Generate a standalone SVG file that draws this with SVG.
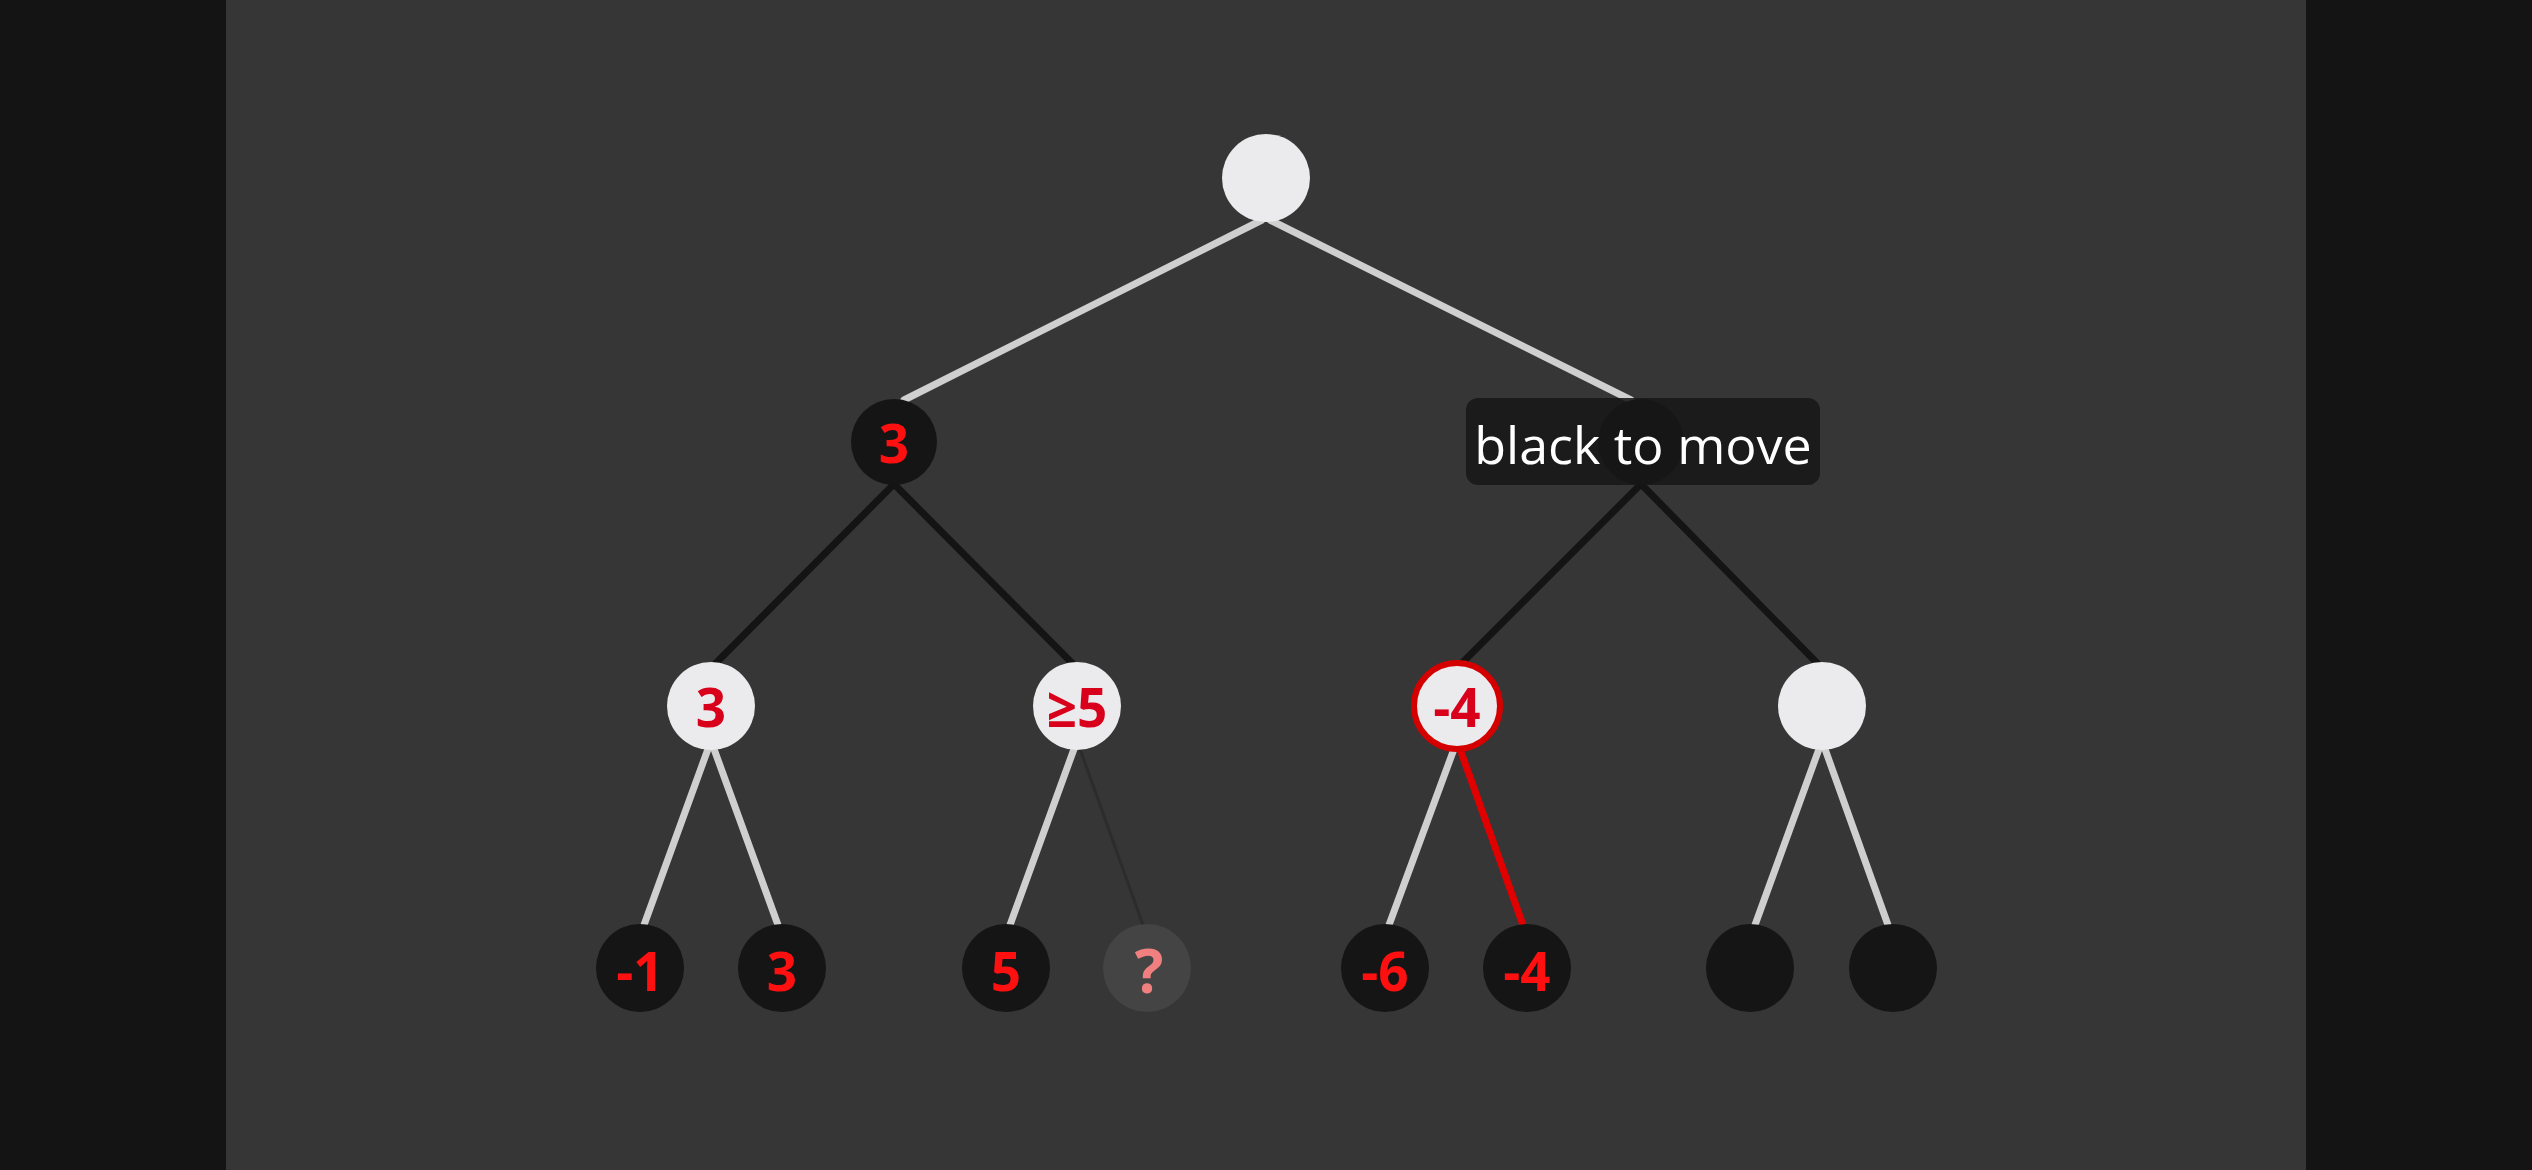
<svg xmlns="http://www.w3.org/2000/svg" width="2532" height="1170" viewBox="0 0 2532 1170">
<style>
.lt{stroke:#cfcfcf;stroke-width:7;stroke-linecap:round}
.dk{stroke:#141414;stroke-width:7;stroke-linecap:round}
.rd{stroke:#e00000;stroke-width:7;stroke-linecap:round}
.ft{stroke:#2c2c2c;stroke-width:3;stroke-linecap:round}
.w{fill:#ebebed}
.b{fill:#151515}
.v{font-family:"Open Sans","Noto Sans",sans-serif;font-weight:bold;font-size:53px;text-anchor:middle;dominant-baseline:central}
.vb{fill:#ff1010}
.vw{fill:#d8001a}
.q{fill:#f08080;font-size:60px}
</style>
<rect x="0" y="0" width="2532" height="1170" fill="#141414"/>
<rect x="226" y="0" width="2080" height="1170" fill="#363636"/>
<g id="connectors">
<line class="lt" x1="1262" y1="220" x2="904" y2="400"/>
<line class="lt" x1="1270" y1="220" x2="1631" y2="400"/>
<line class="dk" x1="894" y1="484" x2="716" y2="663"/>
<line class="dk" x1="894" y1="484" x2="1072" y2="663"/>
<line class="dk" x1="1641" y1="484" x2="1462" y2="663"/>
<line class="dk" x1="1641" y1="484" x2="1817" y2="663"/>
<line class="lt" x1="708" y1="749" x2="644" y2="925"/>
<line class="lt" x1="714" y1="749" x2="778" y2="925"/>
<line class="lt" x1="1074" y1="749" x2="1010" y2="925"/>
<line class="ft" x1="1080" y1="749" x2="1143" y2="925"/>
<line class="lt" x1="1454" y1="749" x2="1389" y2="925"/>
<line class="rd" x1="1460" y1="749" x2="1523" y2="925"/>
<line class="lt" x1="1819" y1="749" x2="1755" y2="925"/>
<line class="lt" x1="1825" y1="749" x2="1888" y2="925"/>
</g>
<g id="root"><circle class="w" cx="1266" cy="178" r="44"/></g>
<g id="n1a"><circle class="b" cx="894" cy="442" r="43"/><text class="v vb" x="894" y="442">3</text></g>
<g id="n1b"><circle fill="#0c0c0c" cx="1641" cy="442" r="43"/></g>
<g id="n2a"><circle class="w" cx="711" cy="706" r="44"/><text class="v vw" x="711" y="706">3</text></g>
<g id="n2b"><circle class="w" cx="1077" cy="706" r="44"/><text class="v vw" x="1077" y="706">≥5</text></g>
<g id="n2c"><circle class="w" cx="1457" cy="706" r="43" stroke="#d40000" stroke-width="6"/><text class="v vw" x="1457" y="706">-4</text></g>
<g id="n2d"><circle class="w" cx="1822" cy="706" r="44"/></g>
<g id="n3a"><circle class="b" cx="640" cy="968" r="44"/><text class="v vb" x="640" y="970">-1</text></g>
<g id="n3b"><circle class="b" cx="782" cy="968" r="44"/><text class="v vb" x="782" y="970">3</text></g>
<g id="n3c"><circle class="b" cx="1006" cy="968" r="44"/><text class="v vb" x="1006" y="970">5</text></g>
<g id="n3d"><circle fill="#444444" cx="1147" cy="968" r="44"/><text class="v q" x="1149" y="970">?</text></g>
<g id="n3e"><circle class="b" cx="1385" cy="968" r="44"/><text class="v vb" x="1385" y="970">-6</text></g>
<g id="n3f"><circle class="b" cx="1527" cy="968" r="44"/><text class="v vb" x="1527" y="970">-4</text></g>
<g id="n3g"><circle class="b" cx="1750" cy="968" r="44"/></g>
<g id="n3h"><circle class="b" cx="1893" cy="968" r="44"/></g>
<g id="label">
<rect x="1466" y="398" width="354" height="87" rx="12" fill="#181818" fill-opacity="0.88"/>
<text x="1643" y="443" font-family="'Open Sans','Noto Sans',sans-serif" font-size="52" fill="#ffffff" text-anchor="middle" dominant-baseline="central">black to move</text>
</g>
</svg>
